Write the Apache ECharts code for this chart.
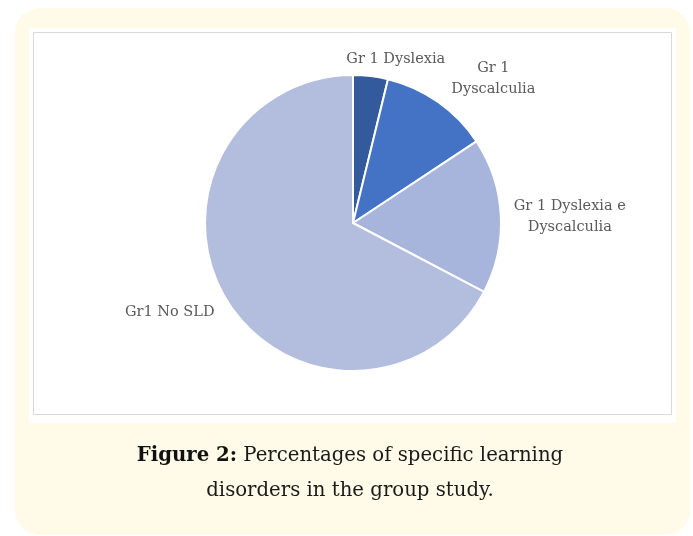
<!DOCTYPE html>
<html><head><meta charset="utf-8">
<script src="https://cdn.jsdelivr.net/npm/echarts@6/dist/echarts.min.js"></script>
<style>html,body{margin:0;padding:0;background:#fff}#c{width:693px;height:536px}</style>
</head><body><div id="c"></div>
<script>
var categories = ['Gr 1 Dyslexia', 'Gr 1\nDyscalculia', 'Gr 1 Dyslexia e\nDyscalculia', 'Gr1 No SLD'];
var values = [3.8, 11.9, 17.0, 67.3];
var colors = ['#335a9c', '#4472c4', '#a7b5dd', '#b3bedf'];
var captionBold = 'Figure 2:';
var captionRest = ' Percentages of specific learning';
var captionLine2 = 'disorders in the group study.';

// label nudges relative to ECharts' default outside position
var labelShift = [[19, -7], [41, -21], [59, 2], [-43, 8]];

var chart = echarts.init(document.getElementById('c'));
chart.setOption({
  animation: false,
  backgroundColor: '#ffffff',
  graphic: [
    {type: 'rect', z: -10, shape: {x: 15, y: 8, width: 675, height: 527, r: 25}, style: {fill: '#fffbe8'}},
    {type: 'rect', z: -9, shape: {x: 29, y: 28, width: 647, height: 395}, style: {fill: '#ffffff'}},
    {type: 'rect', z: -8, shape: {x: 33.5, y: 32.5, width: 638, height: 382}, style: {fill: '#ffffff', stroke: '#d9d9d9', lineWidth: 1}},
    {type: 'text', z: 10, x: 350, y: 473,
      style: {
        text: '{b|' + captionBold + '}{n|' + captionRest + '}\n{n|' + captionLine2 + '}',
        align: 'center', verticalAlign: 'middle',
        rich: {
          b: {fontFamily: 'DejaVu Serif', fontSize: 19.7, fontWeight: 'bold', fill: '#111111', lineHeight: 35},
          n: {fontFamily: 'DejaVu Serif', fontSize: 19.7, fill: '#1a1a1a', lineHeight: 35}
        }
      }
    }
  ],
  series: [{
    type: 'pie',
    center: [353, 223],
    radius: 148,
    startAngle: 90,
    clockwise: true,
    itemStyle: {borderColor: '#ffffff', borderWidth: 2},
    label: {
      show: true, position: 'outside', fontFamily: 'DejaVu Serif', fontSize: 14.5, color: '#595959',
      lineHeight: 21
    },
    labelLine: {show: false, length: 10, length2: 0},
    labelLayout: function (p) {
      var s = labelShift[p.dataIndex];
      var baseX = p.align === 'right' ? p.labelRect.x + p.labelRect.width : p.labelRect.x;
      return {x: baseX + s[0], y: p.labelRect.y + p.labelRect.height / 2 + s[1], align: 'center', verticalAlign: 'middle'};
    },
    data: categories.map(function (c, i) {
      return {name: c, value: values[i], itemStyle: {color: colors[i]}};
    })
  }]
});
</script></body></html>
